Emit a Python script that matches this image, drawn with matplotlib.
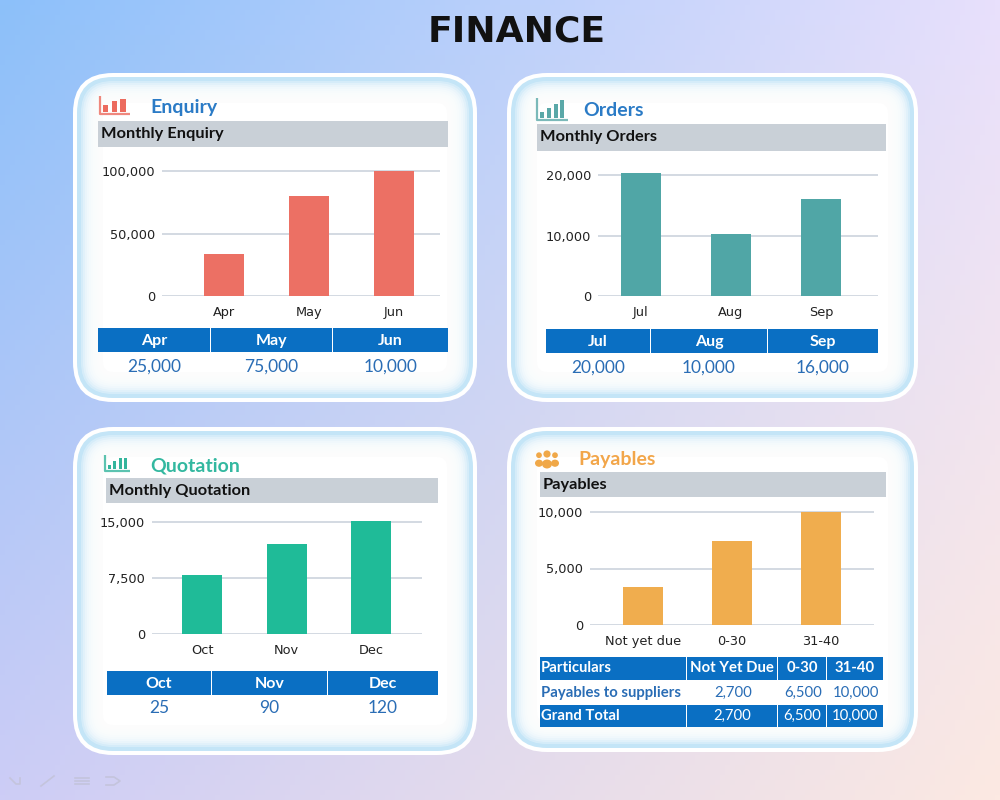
import numpy as np
import matplotlib
matplotlib.use('Agg')
import matplotlib.pyplot as plt
from matplotlib.patches import FancyBboxPatch, Rectangle, Ellipse, Circle
from matplotlib.ticker import FuncFormatter

# ---- data ----
enq_months = ['Apr', 'May', 'Jun']
enq_bars = [33500, 80000, 100000]
enq_table = [25000, 75000, 10000]
enq_ticks = [0, 50000, 100000]

ord_months = ['Jul', 'Aug', 'Sep']
ord_bars = [20300, 10200, 16100]
ord_table = [20000, 10000, 16000]
ord_ticks = [0, 10000, 20000]

quo_months = ['Oct', 'Nov', 'Dec']
quo_bars = [7900, 12100, 15200]
quo_table = [25, 90, 120]
quo_ticks = [0, 7500, 15000]

pay_buckets = ['Not yet due', '0-30', '31-40']
pay_bars = [3350, 7450, 10000]
pay_ticks = [0, 5000, 10000]
pay_head = ['Particulars', 'Not Yet Due', '0-30', '31-40']
pay_rows = ['Payables to suppliers', 'Grand Total']
pay_suppliers = [2700, 6500, 10000]
pay_total = [2700, 6500, 10000]

HEAD = 'Lato'
TBL_BLUE = '#0a6fc3'
VAL_BLUE = '#2a6db5'
GRAY_BAR = '#c9d0d7'
GRID = '#c8d0da'

fig = plt.figure(figsize=(10, 8), dpi=100)

# background axes in pixel units (1 unit = 1 px)
bg = fig.add_axes([0, 0, 1, 1], zorder=0)
bg.set_xlim(0, 1000)
bg.set_ylim(800, 0)
bg.axis('off')

tl = np.array([140, 192, 250]) / 255
tr = np.array([232, 224, 252]) / 255
bl = np.array([205, 205, 246]) / 255
br = np.array([252, 233, 226]) / 255
u = np.linspace(0, 1, 200)[None, :, None]
v = np.linspace(0, 1, 160)[:, None, None]
grad = (1 - v) * ((1 - u) * tl + u * tr) + v * ((1 - u) * bl + u * br)
bg.imshow(grad, extent=(0, 1000, 800, 0), aspect='auto', zorder=0)

bg.text(517, 32, 'FINANCE', ha='center', va='center', fontsize=26,
        fontweight='bold', family='DejaVu Sans', color='#111111')


def panel(x0, y0, x1, y1, r=40):
    w, h = x1 - x0, y1 - y0
    bg.add_patch(FancyBboxPatch((x0, y0), w, h, boxstyle=f'round,pad=0,rounding_size={r}',
                                fc='white', ec='none', zorder=1))
    d = 4
    bg.add_patch(FancyBboxPatch((x0 + d, y0 + d), w - 2 * d, h - 2 * d,
                                boxstyle=f'round,pad=0,rounding_size={r - d}',
                                fc='#c4e5f7', ec='none', zorder=1))
    for d in range(8, 28, 2):
        bg.add_patch(FancyBboxPatch((x0 + d, y0 + d), w - 2 * d, h - 2 * d,
                                    boxstyle=f'round,pad=0,rounding_size={max(r - d, 4)}',
                                    fc='white', ec='none', alpha=0.3, zorder=1))
    d = 30
    bg.add_patch(FancyBboxPatch((x0 + d, y0 + d), w - 2 * d, h - 2 * d,
                                boxstyle=f'round,pad=0,rounding_size={max(r - d, 4)}',
                                fc='white', ec='none', zorder=1))


def bar_icon(x0, y0, x1, y1, color, heights):
    bg.plot([x0, x0, x1], [y0, y1, y1], color=color, lw=1.6, alpha=0.8, zorder=3,
            solid_capstyle='butt')
    n = len(heights)
    step = (x1 - x0 - 4) / n
    for i, hh in enumerate(heights):
        bx = x0 + 3 + i * step
        bg.add_patch(Rectangle((bx, y1 - 2 - hh * (y1 - y0 - 3)), step * 0.6,
                               hh * (y1 - y0 - 3), fc=color, ec='none', zorder=3))


def people_icon(cx, cy, color):
    for dx, s in [(-8, 0.8), (8, 0.8), (0, 1.0)]:
        bg.add_patch(Circle((cx + dx, cy - 6 * s), 3.6 * s, fc=color, ec='none', zorder=3))
        bg.add_patch(Ellipse((cx + dx, cy + 4 * s), 10 * s, 9 * s, fc=color, ec='none', zorder=3))


def header(x, y, title, color, bx0, by0, bx1, by1, sub):
    bg.text(x, y, title, ha='left', va='center', fontsize=14, fontweight='bold',
            family=HEAD, color=color, zorder=4)
    bg.add_patch(Rectangle((bx0, by0), bx1 - bx0, by1 - by0, fc=GRAY_BAR, ec='none', zorder=2))
    bg.text(bx0 + 3, (by0 + by1) / 2, sub, ha='left', va='center', fontsize=11.8,
            fontweight='bold', family=HEAD, color='#111111', zorder=4)


def month_table(cols, y0, y1, yv, labels, values):
    for (c0, c1), lab, val in zip(cols, labels, values):
        bg.add_patch(Rectangle((c0, y0), c1 - c0, y1 - y0, fc=TBL_BLUE, ec='none', zorder=2))
        bg.text((c0 + c1) / 2, (y0 + y1) / 2 + 1, lab, ha='center', va='center',
                fontsize=11.5, fontweight='bold', family=HEAD, color='white', zorder=4)
        bg.text((c0 + c1) / 2, yv + 1, f'{val:,}', ha='center', va='center',
                fontsize=12.5, family=HEAD, color=VAL_BLUE, zorder=4)


def chart(left, right, y0px, ytickpx, ticks, centers, cats, vals, color, bar_px=40):
    top_px = ytickpx - 8
    ax = fig.add_axes([left / 1000, 1 - y0px / 800, (right - left) / 1000,
                       (y0px - top_px) / 800], zorder=2)
    ax.set_facecolor('none')
    s = (centers[-1] - centers[0]) / (len(centers) - 1)
    xs = np.arange(len(cats))
    ax.bar(xs, vals, width=bar_px / s, color=color, zorder=3)
    ax.set_xlim((left - centers[0]) / s, (right - centers[0]) / s)
    ax.set_ylim(0, ticks[-1] * (y0px - top_px) / (y0px - ytickpx))
    ax.set_yticks(ticks)
    ax.yaxis.set_major_formatter(FuncFormatter(lambda v, p: f'{int(v):,}'))
    ax.set_xticks(xs)
    ax.set_xticklabels(cats)
    ax.grid(axis='y', color=GRID, lw=1.1, zorder=0)
    ax.set_axisbelow(True)
    for sp in ax.spines.values():
        sp.set_visible(False)
    ax.tick_params(length=0, labelsize=9.3, colors='#222222')
    ax.tick_params(axis='y', pad=5)
    ax.tick_params(axis='x', pad=7)
    return ax


# ---- panel 1: Enquiry ----
panel(73, 73, 477, 402)
bar_icon(100, 96, 130, 114, '#ec6b5e', [0.45, 0.75, 0.9])
header(150, 107, 'Enquiry', '#2b7bc6', 98, 121, 448, 147, 'Monthly Enquiry')
chart(162, 440, 296, 171, enq_ticks, [224, 309, 394], enq_months, enq_bars, '#ec7064')
month_table([(98, 210), (211, 332), (333, 448)], 328, 352, 366, enq_months, enq_table)

# ---- panel 2: Orders ----
panel(507, 73, 918, 402)
bar_icon(537, 98, 568, 120, '#5aa8a8', [0.3, 0.55, 0.75, 0.95])
header(583, 111, 'Orders', '#2b7bc6', 537, 124, 886, 151, 'Monthly Orders')
chart(598, 878, 296, 175, ord_ticks, [641, 731, 821], ord_months, ord_bars, '#50a6a6')
month_table([(546, 650), (651, 767), (768, 878)], 329, 353, 367, ord_months, ord_table)

# ---- panel 3: Quotation ----
panel(73, 427, 477, 755)
bar_icon(105, 455, 130, 471, '#33b59c', [0.3, 0.6, 0.85, 0.85])
header(150, 466, 'Quotation', '#33b8a0', 106, 478, 438, 503, 'Monthly Quotation')
chart(152, 422, 634, 522, quo_ticks, [202, 286, 371], quo_months, quo_bars, '#1fbb98')
month_table([(107, 211), (212, 327), (328, 438)], 671, 695, 707, quo_months, quo_table)

# ---- panel 4: Payables ----
panel(507, 427, 918, 752)
people_icon(547, 460, '#f0a848')
header(578, 459, 'Payables', '#f2a64a', 540, 472, 886, 497, 'Payables')
chart(590, 874, 625, 512, pay_ticks, [643, 732, 821], pay_buckets, pay_bars, '#f0ad4e')

pcols = [(540, 686), (687, 777), (778, 826), (827, 883)]
prow = [(657, 680), (681, 704), (705, 727)]
for i, ((c0, c1), lab) in enumerate(zip(pcols, pay_head)):
    y0, y1 = prow[0]
    bg.add_patch(Rectangle((c0, y0), c1 - c0, y1 - y0, fc=TBL_BLUE, ec='none', zorder=2))
    if i == 0:
        bg.text(c0 + 1, (y0 + y1) / 2, lab, ha='left', va='center', fontsize=10.7,
                fontweight='bold', family=HEAD, color='white', zorder=4)
    else:
        bg.text((c0 + c1) / 2, (y0 + y1) / 2, lab, ha='center', va='center', fontsize=10.7,
                fontweight='bold', family=HEAD, color='white', zorder=4)

y0, y1 = prow[1]
bg.text(pcols[0][0] + 1, (y0 + y1) / 2, pay_rows[0], ha='left', va='center', fontsize=10.7,
        fontweight='bold', family=HEAD, color=VAL_BLUE, zorder=4)
for (c0, c1), val in zip(pcols[1:], pay_suppliers):
    bg.text((c0 + c1) / 2 + 1, (y0 + y1) / 2, f'{val:,}', ha='center', va='center',
            fontsize=10.7, family=HEAD, color=VAL_BLUE, zorder=4)

y0, y1 = prow[2]
for c0, c1 in pcols:
    bg.add_patch(Rectangle((c0, y0), c1 - c0, y1 - y0, fc=TBL_BLUE, ec='none', zorder=2))
bg.text(pcols[0][0] + 1, (y0 + y1) / 2, pay_rows[1], ha='left', va='center', fontsize=10.7,
        fontweight='bold', family=HEAD, color='white', zorder=4)
for (c0, c1), val in zip(pcols[1:], pay_total):
    bg.text((c0 + c1) / 2, (y0 + y1) / 2, f'{val:,}', ha='center', va='center',
            fontsize=10.7, family=HEAD, color='white', zorder=4)

# faint slide-show controls, bottom left
nav = '#c4c4dc'
bg.plot([10, 16, 20, 20], [778, 784, 784, 778], color=nav, lw=1.2, zorder=2)
bg.plot([41, 54], [786, 776], color=nav, lw=1.2, zorder=2)
for yy in [778, 781, 784]:
    bg.plot([75, 89], [yy, yy], color=nav, lw=1.2, zorder=2)
bg.plot([106, 114, 120, 114, 106], [777, 777, 781, 785, 785], color=nav, lw=1.2, zorder=2)

fig.savefig('out.png', dpi=100)
